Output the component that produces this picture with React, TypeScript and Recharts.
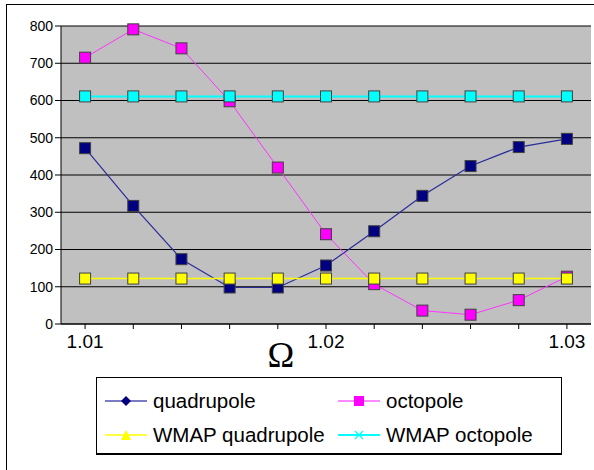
import React from 'react';
import { ComposedChart, Line, XAxis, YAxis, CartesianGrid } from 'recharts';

const omega = ['1.01', '1.012', '1.014', '1.016', '1.018', '1.02', '1.022', '1.024', '1.026', '1.028', '1.03'];
const quadrupole = [472, 317, 174, 98, 98, 157, 249, 344, 424, 475, 497];
const octopole = [715, 791, 740, 598, 420, 241, 107, 36, 25, 64, 127];
const wmapQuadrupole = [122, 122, 122, 122, 122, 122, 122, 122, 122, 122, 122];
const wmapOctopole = [611, 611, 611, 611, 611, 611, 611, 611, 611, 611, 611];
const yTicks = [0, 100, 200, 300, 400, 500, 600, 700, 800];
const xLabels = ['1.01', '1.02', '1.03'];

const data = omega.map((x, i) => ({
  x,
  quadrupole: quadrupole[i],
  octopole: octopole[i],
  wmapQuadrupole: wmapQuadrupole[i],
  wmapOctopole: wmapOctopole[i],
}));

const squareDot = (fill: string) => (props: any) => {
  const { cx, cy, index } = props;
  if (cx == null || cy == null) return <g key={index} />;
  return (
    <rect
      key={index}
      x={cx - 5.5}
      y={cy - 5.5}
      width={11}
      height={11}
      fill={fill}
      stroke="#404040"
      strokeWidth={1}
    />
  );
};

const font = '"Liberation Sans", Arial, sans-serif';

const OmegaLabel = (props: any) => {
  const { viewBox } = props;
  const cx = viewBox.x + viewBox.width / 2 - 45;
  return (
    <text x={cx} y={viewBox.y + 43} textAnchor="middle" fontFamily='"Liberation Serif", serif' fontSize={36} fill="#000">
      Ω
    </text>
  );
};

const LegendIcon = ({ color, shape }: { color: string; shape: string }) => (
  <svg width={44} height={14} style={{ display: 'block' }}>
    <line x1={1} y1={7} x2={43} y2={7} stroke={color} strokeWidth={shape === 'x' ? 2 : 1.5} />
    {shape === 'diamond' && <polygon points="22,2 27,7 22,12 17,7" fill="#000080" />}
    {shape === 'square' && <rect x={17} y={2} width={10} height={10} fill="#FF00FF" />}
    {shape === 'triangle' && <polygon points="22,2 27,12 17,12" fill="#FFFF00" />}
    {shape === 'x' && (
      <g stroke={color} strokeWidth={1.2}>
        <line x1={18} y1={3} x2={26} y2={11} />
        <line x1={26} y1={3} x2={18} y2={11} />
      </g>
    )}
  </svg>
);

const legendItems = [
  { name: 'quadrupole', color: '#5050B0', shape: 'diamond', left: 7, top: 14 },
  { name: 'octopole', color: '#FF66FF', shape: 'square', left: 240, top: 14 },
  { name: 'WMAP quadrupole', color: '#FFFF00', shape: 'triangle', left: 7, top: 48 },
  { name: 'WMAP octopole', color: '#00FFFF', shape: 'x', left: 240, top: 48 },
];

export default function App() {
  return (
    <div style={{ position: 'absolute', left: 0, top: 0, width: 594, height: 470, overflow: 'hidden', background: '#fff' }}>
      <div style={{ position: 'absolute', left: 6, top: 4, width: 620, height: 500, border: '1.5px solid #000', boxSizing: 'border-box' }} />
      <div style={{ position: 'absolute', left: 0, top: 0 }}>
        <ComposedChart width={594} height={470} data={data} margin={{ top: 26, right: 3, bottom: 96, left: 0 }}>
          <CartesianGrid vertical={false} stroke="#000" fill="#C0C0C0" strokeWidth={1} />
          <XAxis
            dataKey="x"
            type="category"
            scale="band"
            interval={0}
            height={50}
            tickSize={5}
            tickMargin={6}
            axisLine={{ stroke: '#000' }}
            tickLine={{ stroke: '#000' }}
            tick={{ fontSize: 19, fill: '#000', fontFamily: font }}
            tickFormatter={(v: string) => (xLabels.includes(v) ? v : '')}
            label={<OmegaLabel />}
          />
          <YAxis
            type="number"
            domain={[0, 800]}
            ticks={yTicks}
            width={61}
            tickSize={6}
            tickMargin={2}
            axisLine={{ stroke: '#000' }}
            tickLine={{ stroke: '#000' }}
            tick={{ fontSize: 14, fill: '#000', fontFamily: font }}
          />
          <Line dataKey="quadrupole" stroke="#2B2B9A" strokeWidth={1.2} dot={squareDot('#000080')} isAnimationActive={false} />
          <Line dataKey="octopole" stroke="#FF33FF" strokeWidth={1} dot={squareDot('#FF00FF')} isAnimationActive={false} />
          <Line dataKey="wmapQuadrupole" stroke="#FFFF00" strokeWidth={1.5} dot={squareDot('#FFFF00')} isAnimationActive={false} />
          <Line dataKey="wmapOctopole" stroke="#00FFFF" strokeWidth={2} dot={squareDot('#00FFFF')} isAnimationActive={false} />
        </ComposedChart>
      </div>
      <div style={{ position: 'absolute', left: 96, top: 377, width: 466, height: 78, border: '1px solid #000', borderBottomWidth: 2, boxSizing: 'border-box', background: '#fff' }}>
        {legendItems.map((it) => (
          <div key={it.name} style={{ position: 'absolute', left: it.left, top: it.top, display: 'flex', alignItems: 'center', height: 18 }}>
            <LegendIcon color={it.color} shape={it.shape} />
            <span style={{ marginLeft: 5, fontFamily: font, fontSize: 20.5, color: '#000', lineHeight: '18px', whiteSpace: 'nowrap' }}>{it.name}</span>
          </div>
        ))}
      </div>
    </div>
  );
}
